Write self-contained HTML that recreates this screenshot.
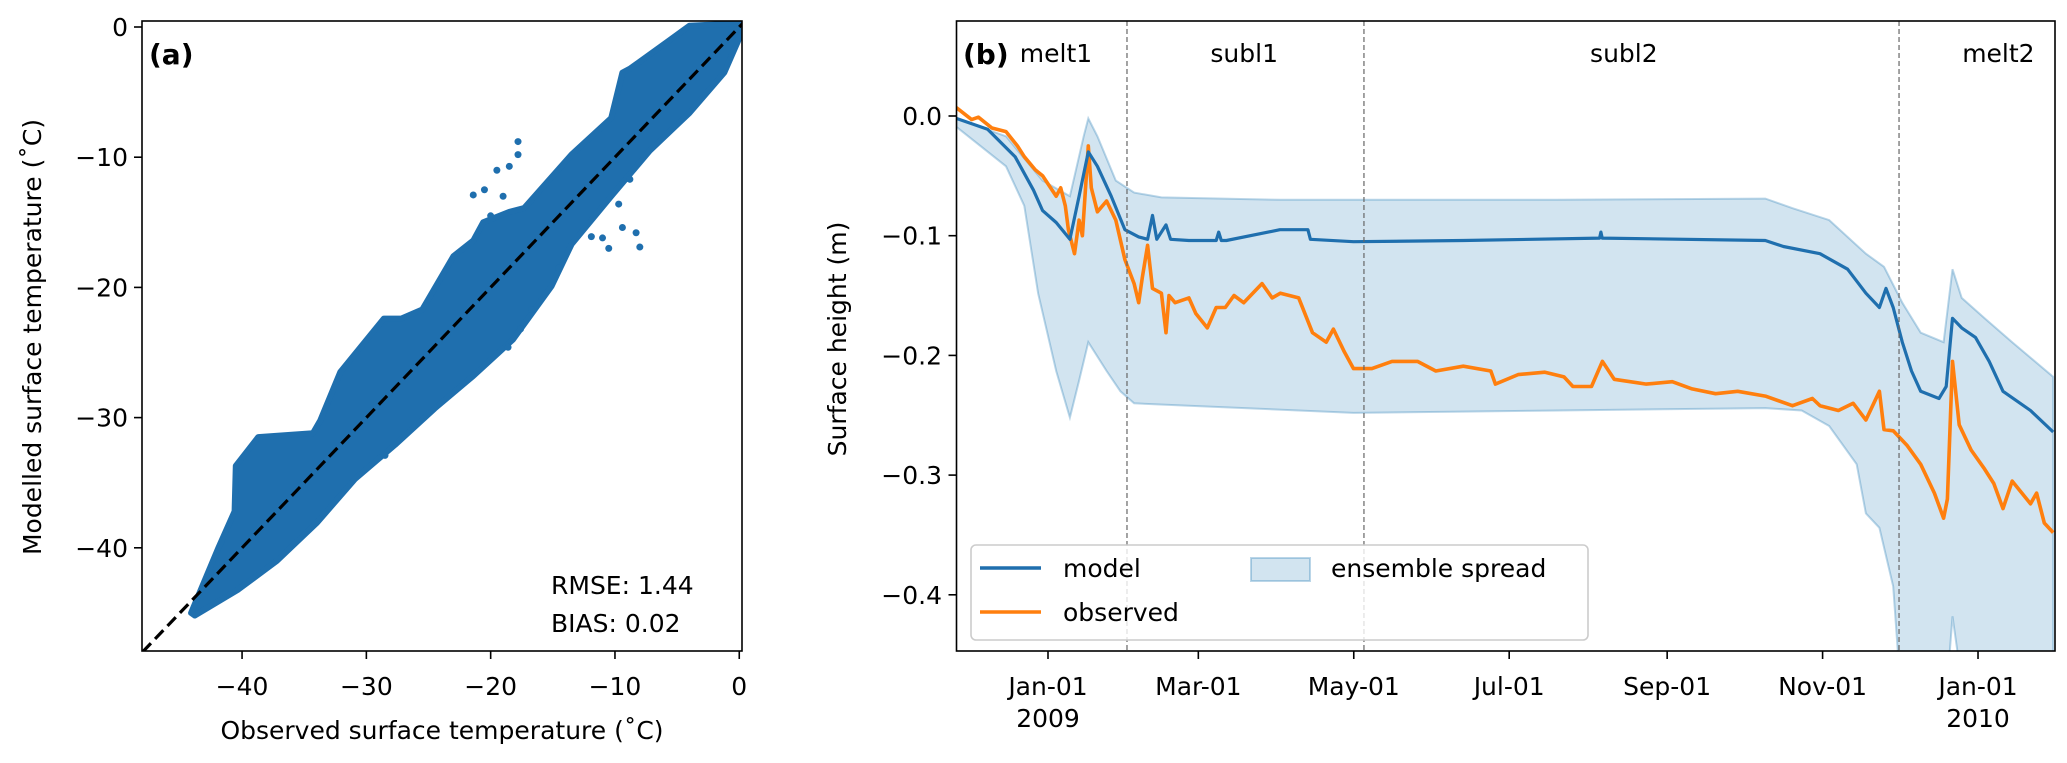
<!DOCTYPE html>
<html><head><meta charset="utf-8"><style>
html,body{margin:0;padding:0;background:#fff;}
svg{display:block;font-family:"DejaVu Sans","Liberation Sans",sans-serif;}
</style></head><body>
<svg id="fig" width="2067" height="763" viewBox="0 0 2067 763" xmlns="http://www.w3.org/2000/svg">
<defs>
<clipPath id="clipA"><rect x="142" y="21" width="600" height="630"/></clipPath>
<clipPath id="clipB"><rect x="956.5" y="21" width="1098.5" height="630"/></clipPath>
</defs>
<g id="panelA"></g>
<g id="panelB"></g>
</svg>
<script>
// ---------- Panel (a) data ----------
const scatterUpperObs = [-44.1,-41.9,-40.6,-40.5,-38.7,-34.3,-33.7,-32.1,-28.6,-27.2,-25.5,-23.0,-21.4,-20.6,-18.5,-17.3,-13.5,-10.3,-9.4,-8.8,-5.6,-4.0,0.4];
const scatterUpperMod = [-45.0,-40.0,-37.2,-33.7,-31.5,-31.2,-30.2,-26.5,-22.4,-22.4,-21.7,-17.6,-16.4,-15.0,-14.2,-13.9,-9.8,-7.0,-3.5,-3.2,-1.0,0.1,0.3];
const scatterLowerObs = [0.4,-1.2,-4.0,-7.2,-10.3,-13.5,-15.1,-18.2,-21.4,-24.5,-27.7,-30.9,-34.0,-37.2,-40.3,-43.8];
const scatterLowerMod = [0.0,-3.5,-6.6,-9.5,-13.0,-16.7,-19.9,-24.0,-26.8,-29.3,-32.1,-34.7,-38.1,-41.0,-43.2,-45.2];
const outlierObs = [-21.4,-20.5,-19.5,-18.5,-17.8,-17.8,-19.0,-20.0,-11.0,-9.4,-8.3,-8.0,-11.9,-10.5,-18.6,-17.6,-16.7,-8.8,-9.7,-28.5,-14.5];
const outlierMod = [-12.9,-12.5,-11.0,-10.7,-8.8,-9.8,-13.0,-14.5,-16.2,-15.4,-15.8,-16.9,-16.1,-17.0,-24.6,-23.2,-21.7,-11.7,-13.6,-32.9,-18.5];
const xTicksA = [-40,-30,-20,-10,0];
const yTicksA = [0,-10,-20,-30,-40];

// ---------- Panel (b) data ----------
const modelDay = [-36,-23.7,-12.9,-5.7,-2.1,3.2,8.6,12.2,15.8,19.4,24.8,30.2,35.6,39.1,41,42.7,46.3,48.1,55.3,66,67,68,70,91,92,102,103,119.9,163,216.5,217,217.5,281.5,288.6,303,313.8,321,326.3,328.9,331.7,335.3,338.9,342.5,349.7,352.5,355,358.6,364,369.4,374.8,385.6,394.5];
const modelVal = [-0.002,-0.011,-0.034,-0.062,-0.079,-0.089,-0.103,-0.067,-0.030,-0.042,-0.067,-0.095,-0.101,-0.103,-0.083,-0.103,-0.091,-0.103,-0.104,-0.104,-0.097,-0.104,-0.104,-0.095,-0.095,-0.095,-0.103,-0.105,-0.104,-0.102,-0.097,-0.102,-0.104,-0.109,-0.115,-0.128,-0.148,-0.160,-0.144,-0.160,-0.189,-0.213,-0.230,-0.236,-0.226,-0.169,-0.177,-0.185,-0.205,-0.230,-0.246,-0.264];
const obsDay = [-36,-30,-27.3,-22,-16.5,-12,-9.3,-5,-2.1,3.2,5,6.8,8,10.4,12.2,13.5,15.8,17,19.4,23,26.6,30.2,33.8,35.6,37,39.1,41,44.5,46.3,47.5,49.9,55.3,58,62.5,66,69.6,73,76.8,84,88,91.2,98.4,103.8,109.2,112,116.3,119.9,127.1,135,145,152.2,163,173.8,175.6,184.5,195,202.5,206,213.3,217.6,222.2,234.8,245,252.8,262,270.7,281.5,292.2,300,303,310.2,316,321,326.3,328.1,331.7,337.1,342.5,347.9,351.5,353,355,357.6,362.3,367.6,371.2,374.8,378.4,385.6,388,391,394.5];
const obsVal = [0.007,-0.003,-0.001,-0.010,-0.013,-0.025,-0.034,-0.045,-0.050,-0.067,-0.060,-0.075,-0.095,-0.115,-0.087,-0.100,-0.025,-0.060,-0.080,-0.071,-0.087,-0.120,-0.140,-0.156,-0.135,-0.108,-0.144,-0.148,-0.181,-0.150,-0.156,-0.152,-0.165,-0.177,-0.160,-0.160,-0.150,-0.156,-0.140,-0.152,-0.148,-0.152,-0.181,-0.189,-0.178,-0.197,-0.211,-0.211,-0.205,-0.205,-0.213,-0.209,-0.213,-0.224,-0.216,-0.214,-0.218,-0.226,-0.226,-0.205,-0.220,-0.224,-0.222,-0.228,-0.232,-0.230,-0.234,-0.242,-0.236,-0.242,-0.246,-0.240,-0.254,-0.230,-0.262,-0.263,-0.275,-0.291,-0.315,-0.336,-0.320,-0.205,-0.258,-0.279,-0.295,-0.307,-0.328,-0.305,-0.324,-0.315,-0.340,-0.348];
const upDay = [-36,-16.5,-2.1,8.6,14,15.8,19.4,26.6,33.8,44.5,91.2,200,281.5,292.2,306.6,321,328.1,335.3,342.5,351.5,355,358.6,367.6,378.4,394.5];
const upVal = [-0.002,-0.017,-0.054,-0.067,-0.017,-0.002,-0.017,-0.054,-0.064,-0.068,-0.070,-0.070,-0.069,-0.077,-0.087,-0.115,-0.126,-0.156,-0.181,-0.189,-0.128,-0.152,-0.169,-0.189,-0.218];
const loDay = [-36,-16.5,-9.3,-3.9,3.2,8.6,12.2,15.8,23,28.4,33.8,55.3,119.9,200,281.5,295.8,306.6,317.4,321,326.3,331.7,335.3,352,355,360.4,394.5];
const loVal = [-0.009,-0.042,-0.075,-0.148,-0.213,-0.252,-0.221,-0.189,-0.213,-0.230,-0.240,-0.242,-0.248,-0.246,-0.244,-0.246,-0.259,-0.291,-0.332,-0.344,-0.393,-0.5,-0.5,-0.418,-0.5,-0.5];
const xTickDays = [0,59,120,181,243,304,365];
const xTickLabels = ["Jan-01","Mar-01","May-01","Jul-01","Sep-01","Nov-01","Jan-01"];
const xTickYears = ["2009","","","","","","2010"];
const yTicksB = [0.0,-0.1,-0.2,-0.3,-0.4];
const periodLines = [31,124,334];
const periodNames = ["melt1","subl1","subl2","melt2"];
const periodCenters = [3,77,226,373];

const NS="http://www.w3.org/2000/svg";
function mk(tag, attrs, parent){const e=document.createElementNS(NS,tag);for(const k in attrs)e.setAttribute(k,attrs[k]);parent.appendChild(e);return e;}
const FS=25;

// ---------- Panel (a) ----------
const A=document.getElementById('panelA');
const ax=v=>142+(v+48.05)*12.43;
const ay=v=>27-v*13.02;
const cloud=[];
scatterUpperObs.forEach((o,i)=>cloud.push(ax(o).toFixed(1)+','+ay(scatterUpperMod[i]).toFixed(1)));
scatterLowerObs.forEach((o,i)=>cloud.push(ax(o).toFixed(1)+','+ay(scatterLowerMod[i]).toFixed(1)));
const gA=mk('g',{'clip-path':'url(#clipA)'},A);
const band=mk('polygon',{points:cloud.join(' '),fill:'#1f6fae',stroke:'#1f6fae','stroke-width':6,'stroke-linejoin':'round'},gA);


outlierObs.forEach((o,i)=>{
  const c=mk('circle',{cx:ax(o),cy:ay(outlierMod[i]),r:3.5,fill:'#1f6fae'},gA);
  
  
});
const oneone=mk('line',{x1:ax(-48),y1:ay(-48),x2:ax(0.3),y2:ay(0.3),stroke:'#000','stroke-width':3.2,'stroke-dasharray':'12,6'},gA);


const frameA=mk('rect',{x:142,y:21,width:600,height:630,fill:'none',stroke:'#000','stroke-width':1.6},A);


xTicksA.forEach(t=>{
  const x=ax(t);
  mk('line',{x1:x,y1:651,x2:x,y2:659,stroke:'#000','stroke-width':1.6},A);
  const tx=mk('text',{x:x,y:695,'font-size':FS,'text-anchor':'middle'},A);
  tx.textContent=t<0?'\u2212'+(-t):String(t);
  
  
});
yTicksA.forEach(t=>{
  const y=ay(t);
  mk('line',{x1:134,y1:y,x2:142,y2:y,stroke:'#000','stroke-width':1.6},A);
  const tx=mk('text',{x:128,y:y+9,'font-size':FS,'text-anchor':'end'},A);
  tx.textContent=t<0?'\u2212'+(-t):String(t);
  
  
});
let t;
t=mk('text',{x:442,y:739,'font-size':FS,'text-anchor':'middle'},A);t.textContent='Observed surface temperature (\u02daC)';

t=mk('text',{x:0,y:0,'font-size':FS,'text-anchor':'middle',transform:'translate(41,337) rotate(-90)'},A);t.textContent='Modelled surface temperature (\u02daC)';

t=mk('text',{x:149,y:64,'font-size':28,'font-weight':'bold'},A);t.textContent='(a)';

t=mk('text',{x:551,y:594,'font-size':FS},A);t.textContent='RMSE: 1.44';

t=mk('text',{x:551,y:632,'font-size':FS},A);t.textContent='BIAS: 0.02';


// ---------- Panel (b) ----------
const B=document.getElementById('panelB');
const bx=d=>1048+d*2.548;
const by=v=>116-v*1197;
const gB=mk('g',{'clip-path':'url(#clipB)'},B);
const sp=[];
upDay.forEach((d,i)=>sp.push(bx(d).toFixed(1)+','+by(upVal[i]).toFixed(1)));
for(let i=loDay.length-1;i>=0;i--)sp.push(bx(loDay[i]).toFixed(1)+','+by(loVal[i]).toFixed(1));
const spread=mk('polygon',{points:sp.join(' '),fill:'rgba(31,119,180,0.2)',stroke:'rgba(31,119,180,0.3)','stroke-width':2},gB);


periodLines.forEach(d=>{
  const l=mk('line',{x1:bx(d),y1:21,x2:bx(d),y2:651,stroke:'#666','stroke-width':1.2,'stroke-dasharray':'5,3'},B);
  
  
});
const pl=(ds,vs)=>ds.map((d,i)=>bx(d).toFixed(1)+','+by(vs[i]).toFixed(1)).join(' ');
const obsLine=mk('polyline',{points:pl(obsDay,obsVal),fill:'none',stroke:'#ff7f0e','stroke-width':3.6,'stroke-linejoin':'round'},gB);


const modLine=mk('polyline',{points:pl(modelDay,modelVal),fill:'none',stroke:'#1f6fae','stroke-width':3.2,'stroke-linejoin':'round'},gB);


const frameB=mk('rect',{x:956.5,y:21,width:1098.5,height:630,fill:'none',stroke:'#000','stroke-width':1.6},B);


xTickDays.forEach((d,i)=>{
  const x=bx(d);
  mk('line',{x1:x,y1:651,x2:x,y2:659,stroke:'#000','stroke-width':1.6},B);
  const tx=mk('text',{x:x,y:695,'font-size':FS,'text-anchor':'middle'},B);
  tx.textContent=xTickLabels[i];
  
  
  if(xTickYears[i]){
    const ty=mk('text',{x:x,y:727,'font-size':FS,'text-anchor':'middle'},B);
    ty.textContent=xTickYears[i];
    
    
  }
});
yTicksB.forEach(v=>{
  const y=by(v);
  mk('line',{x1:948.5,y1:y,x2:956.5,y2:y,stroke:'#000','stroke-width':1.6},B);
  const tx=mk('text',{x:942,y:y+9,'font-size':FS,'text-anchor':'end'},B);
  tx.textContent=(v<0?'\u2212':'')+Math.abs(v).toFixed(1);
  
  
});
t=mk('text',{x:0,y:0,'font-size':FS,'text-anchor':'middle',transform:'translate(846,339) rotate(-90)'},B);t.textContent='Surface height (m)';

t=mk('text',{x:963,y:64,'font-size':28,'font-weight':'bold'},B);t.textContent='(b)';

periodNames.forEach((n,i)=>{
  const tx=mk('text',{x:i===0?1056:bx(periodCenters[i]),y:62,'font-size':FS,'text-anchor':'middle'},B);
  tx.textContent=n;
  
  
});
// legend
const lg=mk('g',{},B);


mk('rect',{x:971,y:545,width:617,height:95,rx:5,fill:'rgba(255,255,255,0.8)',stroke:'#ccc','stroke-width':1.6},lg);
mk('line',{x1:980,y1:568,x2:1041,y2:568,stroke:'#1f6fae','stroke-width':3.5},lg);
t=mk('text',{x:1063,y:577,'font-size':FS},lg);t.textContent='model';

mk('line',{x1:980,y1:612,x2:1041,y2:612,stroke:'#ff7f0e','stroke-width':3.5},lg);
t=mk('text',{x:1063,y:621,'font-size':FS},lg);t.textContent='observed';

mk('rect',{x:1251,y:558,width:59,height:23,fill:'rgba(31,119,180,0.2)',stroke:'rgba(31,119,180,0.3)','stroke-width':2},lg);
t=mk('text',{x:1331,y:577,'font-size':FS},lg);t.textContent='ensemble spread';

</script>
</body></html>
